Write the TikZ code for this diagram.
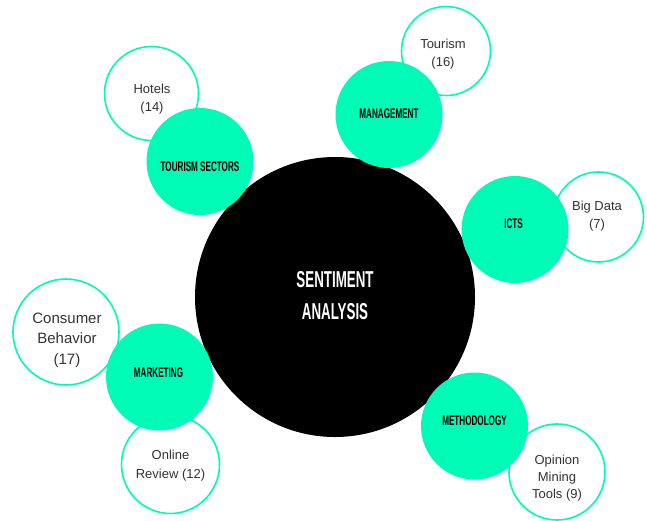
\documentclass[tikz,border=0pt]{standalone}
\usepackage{fontspec}
\setmainfont{Liberation Sans}
\newfontfamily\bebas[FakeStretch=0.58]{Liberation Sans}
\definecolor{mint}{HTML}{00FBB7}
\definecolor{txt}{HTML}{333333}
\begin{document}
\begin{tikzpicture}[x=1pt,y=-1pt,
  hub/.style={circle,fill=black,draw=none,minimum size=280pt,inner sep=0pt},
  topic/.style={circle,fill=mint,draw=none,minimum size=107pt,inner sep=0pt},
  leaf/.style={circle,draw=mint,line width=1.6pt,fill=white,inner sep=0pt},
  toptext/.style={font=\bebas\bfseries\fontsize{14}{16}\selectfont,text=black,inner sep=0pt},
  hubtext/.style={font=\bebas\bfseries\fontsize{23}{32}\selectfont,text=white,align=center,inner sep=0pt},
  leaftext/.style={font=\fontsize{13}{18}\selectfont,text=txt,align=center,inner sep=0pt}]
\useasboundingbox (0,0) rectangle (647,520);
% leaf circles
\node[leaf,minimum size=94pt] (hotels) at (151.5,93.5) {};
\node[leaf,minimum size=89pt] (tourism) at (446,51) {};
\node[leaf,minimum size=90pt] (bigdata) at (598.5,217) {};
\node[leaf,minimum size=106pt] (consumer) at (66,332) {};
\node[leaf,minimum size=98pt] (online) at (170.5,464.5) {};
\node[leaf,minimum size=96pt] (opinion) at (557,472) {};
% hub
\node[hub] (hub) at (335,297) {};
% topics
\node[topic] (mgmt) at (389,114.5) {};
\node[topic] (ts) at (200,161.5) {};
\node[topic] (icts) at (515,229.5) {};
\node[topic] (mkt) at (159.5,377) {};
\node[topic] (meth) at (474.5,426) {};
% texts
\node[hubtext] (hubt) at (335,296) {SENTIMENT\\ANALYSIS};
\node[toptext] (mgmtt) at (389,113.5) {MANAGEMENT};
\node[toptext] (tst) at (200,166.5) {TOURISM SECTORS};
\node[toptext] (ictst) at (513.5,224) {ICTS};
\node[toptext] (mktt) at (158.5,373) {MARKETING};
\node[toptext] (metht) at (474.5,421) {METHODOLOGY};
\node[leaftext] (hotelst) at (152,99) {Hotels\\(14)};
\node[leaftext] (tourismt) at (443,54) {Tourism\\(16)};
\node[leaftext] (bigdatat) at (597,216) {Big Data\\(7)};
\node[leaftext,font=\fontsize{15}{20.5}\selectfont] (consumert) at (67,340) {Consumer\\Behavior\\(17)};
\node[leaftext,font=\fontsize{13}{19}\selectfont] (onlinet) at (170.5,465.5) {Online\\Review (12)};
\node[leaftext,font=\fontsize{13}{17}\selectfont] (opiniont) at (557,478) {Opinion\\Mining\\Tools (9)};
\end{tikzpicture}
\end{document}
